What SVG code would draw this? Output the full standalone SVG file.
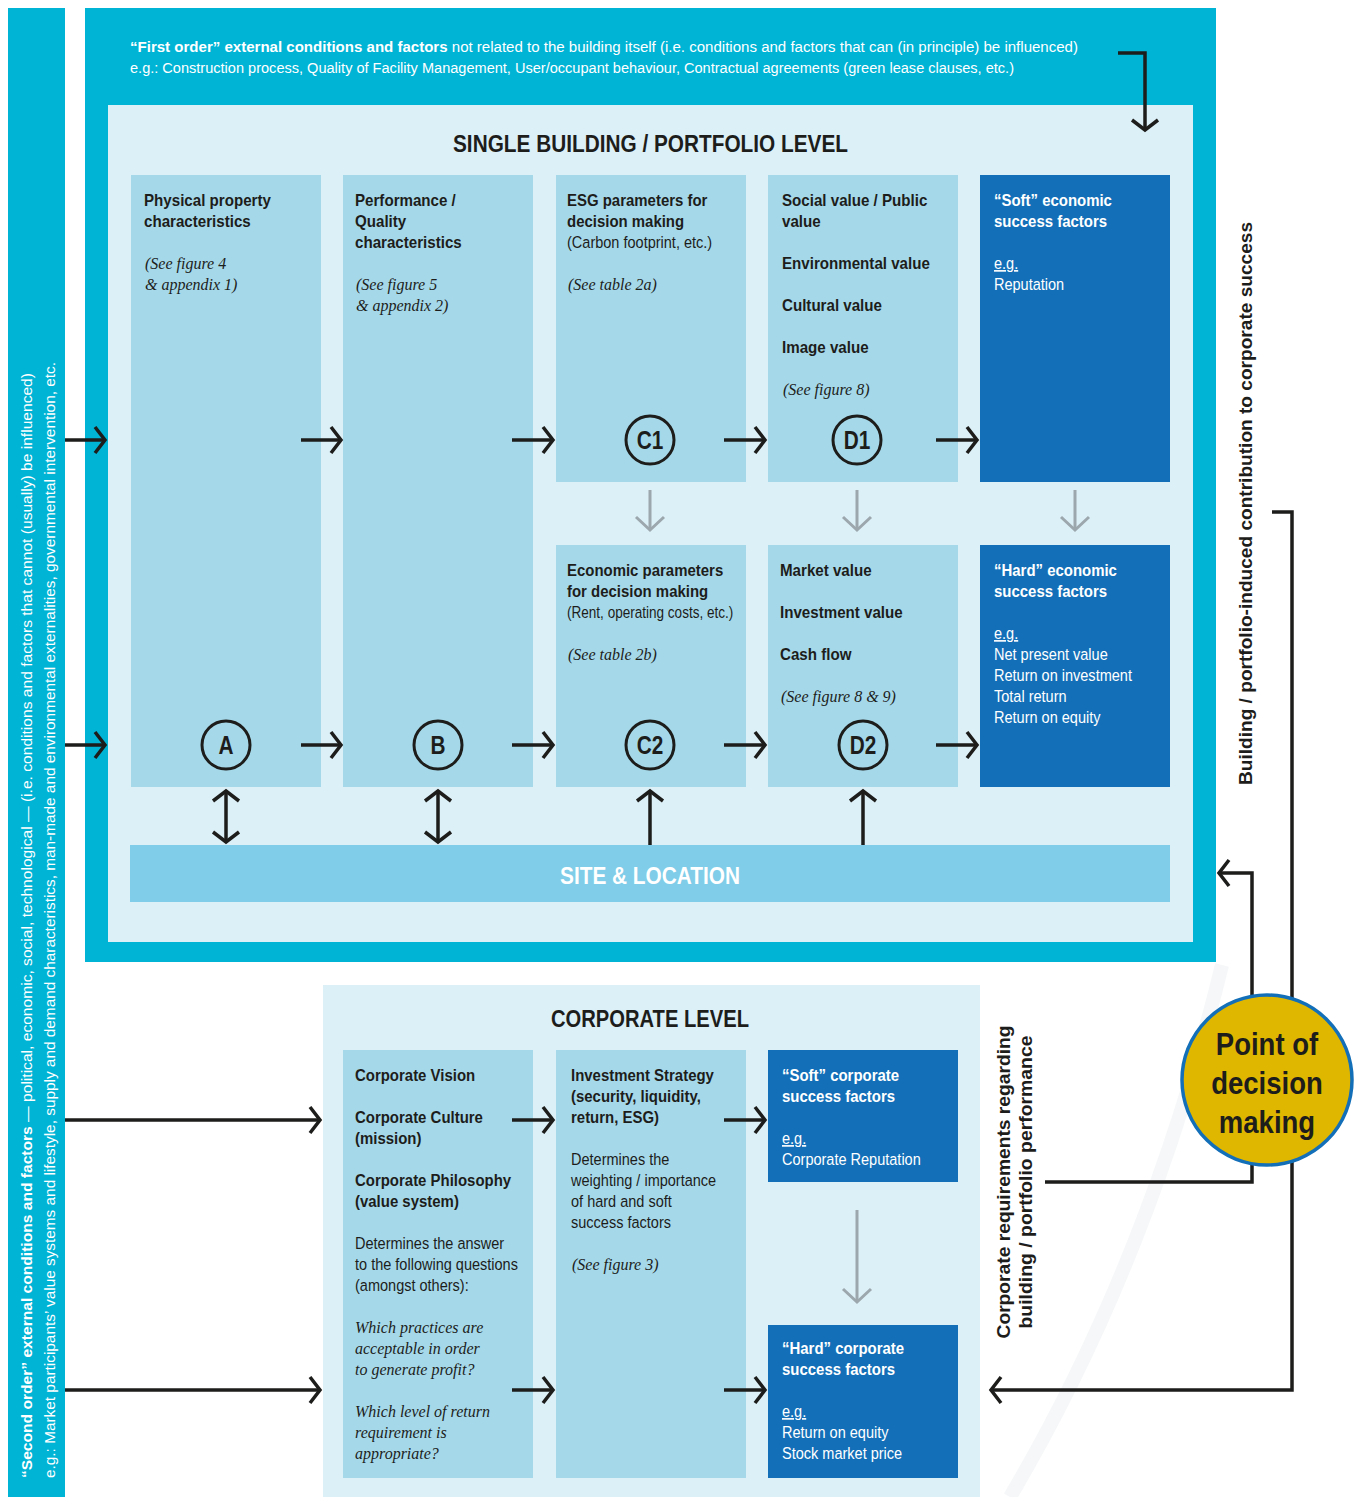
<svg xmlns="http://www.w3.org/2000/svg" width="1362" height="1497" viewBox="0 0 1362 1497">
<defs>
<style>
.cy{fill:#00b4d6}
.lt{fill:#dcf0f8}
.md{fill:#a5d9ea}
.dk{fill:#136fb8}
.site{fill:#7fcde8}
text{font-family:"Liberation Sans",Arial,sans-serif;fill:#1d1d1b}
.h{font-size:17px;font-weight:bold}
.r{font-size:16.5px}
.i{font-family:"Liberation Serif",serif;font-style:italic;font-size:16px}
.w{fill:#ffffff}
.u{text-decoration:underline}
.t{font-size:24px;font-weight:bold}
.cl{font-size:26px;font-weight:bold;text-anchor:middle}
.circ{fill:none;stroke:#1d1d1b;stroke-width:3}
.ar{fill:none;stroke:#1d1d1b;stroke-width:3.5;marker-end:url(#ah)}
.ar2{fill:none;stroke:#1d1d1b;stroke-width:3.5;marker-end:url(#ah);marker-start:url(#ahs)}
.ga{fill:none;stroke:#9ca7ad;stroke-width:3;marker-end:url(#gh)}
</style>
<marker id="ah" markerUnits="userSpaceOnUse" viewBox="-16 -16 20 32" refX="0" refY="0" markerWidth="20" markerHeight="32" orient="auto" overflow="visible">
<path d="M-10,-13 L0,0 L-10,13" fill="none" stroke="#1d1d1b" stroke-width="3.5"/>
</marker>
<marker id="ahs" markerUnits="userSpaceOnUse" viewBox="-4 -16 20 32" refX="0" refY="0" markerWidth="20" markerHeight="32" orient="auto" overflow="visible">
<path d="M10,-13 L0,0 L10,13" fill="none" stroke="#1d1d1b" stroke-width="3.5"/>
</marker>
<marker id="gh" markerUnits="userSpaceOnUse" viewBox="-16 -16 20 32" refX="0" refY="0" markerWidth="20" markerHeight="32" orient="auto" overflow="visible">
<path d="M-13,-14 L0,0 L-13,14" fill="none" stroke="#9ca7ad" stroke-width="3"/>
</marker>
</defs>
<rect x="0" y="0" width="1362" height="1497" fill="#ffffff"/>
<path d="M1222,965 Q1150,1260 1010,1497" fill="none" stroke="#f3f5f6" stroke-width="14" opacity="0.8"/>

<g id="second-order">
<rect class="cy" x="8" y="8" width="57" height="1489"/>
<text class="w" transform="translate(32,1478) rotate(-90)" font-size="15.5" textLength="1105" lengthAdjust="spacingAndGlyphs"><tspan font-weight="bold">“Second order” external conditions and factors</tspan> — political, economic, social, technological — (i.e. conditions and factors that cannot (usually) be influenced)</text>
<text class="w" transform="translate(55,1478) rotate(-90)" font-size="15.5" textLength="1116" lengthAdjust="spacingAndGlyphs">e.g.: Market participants’ value systems and lifestyle, supply and demand characteristics, man-made and environmental externalities, governmental intervention, etc.</text>
</g>

<g id="first-order">
<rect class="cy" x="85" y="8" width="1131" height="954"/>
<text class="w" x="130" y="52" font-size="15.5" textLength="948" lengthAdjust="spacingAndGlyphs"><tspan font-weight="bold">“First order” external conditions and factors</tspan> not related to the building itself  (i.e. conditions and factors that can (in principle) be influenced)</text>
<text class="w" x="130" y="73" font-size="15.5" textLength="884" lengthAdjust="spacingAndGlyphs">e.g.: Construction process, Quality of Facility Management, User/occupant behaviour, Contractual agreements (green lease clauses, etc.)</text>
</g>

<g id="single-building-level">
<rect class="lt" x="108" y="105" width="1085" height="837"/>
<text class="t" x="453" y="152" textLength="395" lengthAdjust="spacingAndGlyphs">SINGLE BUILDING / PORTFOLIO LEVEL</text>
</g>

<g id="node-A">
<rect class="md" x="131" y="175" width="190" height="612"/>
<g transform="translate(144,0) scale(0.89,1)">
<text class="h" y="206">Physical property</text>
<text class="h" y="227">characteristics</text>
</g>
<text class="i" x="145" y="269">(See figure 4</text>
<text class="i" x="145" y="290">&amp; appendix 1)</text>
<circle class="circ" cx="226" cy="745" r="24"/>
<g transform="translate(226,0) scale(0.8,1)"><text class="cl" y="754">A</text></g>
</g>

<g id="node-B">
<rect class="md" x="343" y="175" width="190" height="612"/>
<g transform="translate(355,0) scale(0.89,1)">
<text class="h" y="206">Performance /</text>
<text class="h" y="227">Quality</text>
<text class="h" y="248">characteristics</text>
</g>
<text class="i" x="356" y="290">(See figure 5</text>
<text class="i" x="356" y="311">&amp; appendix 2)</text>
<circle class="circ" cx="438" cy="745" r="24"/>
<g transform="translate(438,0) scale(0.8,1)"><text class="cl" y="754">B</text></g>
</g>

<g id="node-C1">
<rect class="md" x="556" y="175" width="190" height="307"/>
<g transform="translate(567,0) scale(0.88,1)">
<text class="h" y="206">ESG parameters for</text>
<text class="h" y="227">decision making</text>
<text class="r" y="248">(Carbon footprint, etc.)</text>
</g>
<text class="i" x="568" y="290">(See table 2a)</text>
<circle class="circ" cx="650" cy="440" r="24"/>
<g transform="translate(650,0) scale(0.8,1)"><text class="cl" y="449">C1</text></g>
</g>

<g id="node-D1">
<rect class="md" x="768" y="175" width="190" height="307"/>
<g transform="translate(782,0) scale(0.89,1)">
<text class="h" y="206">Social value / Public</text>
<text class="h" y="227">value</text>
<text class="h" y="269">Environmental value</text>
<text class="h" y="311">Cultural value</text>
<text class="h" y="353">Image value</text>
</g>
<text class="i" x="783" y="395">(See figure 8)</text>
<circle class="circ" cx="857" cy="440" r="24"/>
<g transform="translate(857,0) scale(0.8,1)"><text class="cl" y="449">D1</text></g>
</g>

<g id="node-soft-economic">
<rect class="dk" x="980" y="175" width="190" height="307"/>
<g transform="translate(994,0) scale(0.88,1)">
<text class="h w" y="206">“Soft” economic</text>
<text class="h w" y="227">success factors</text>
<text class="r w u" y="269">e.g.</text>
<text class="r w" y="290">Reputation</text>
</g>
</g>

<g id="node-C2">
<rect class="md" x="556" y="545" width="190" height="242"/>
<g transform="translate(567,0) scale(0.88,1)">
<text class="h" y="576">Economic parameters</text>
<text class="h" y="597">for decision making</text>
<text class="r" y="618" textLength="189" lengthAdjust="spacingAndGlyphs">(Rent, operating costs, etc.)</text>
</g>
<text class="i" x="568" y="660">(See table 2b)</text>
<circle class="circ" cx="650" cy="745" r="24"/>
<g transform="translate(650,0) scale(0.8,1)"><text class="cl" y="754">C2</text></g>
</g>

<g id="node-D2">
<rect class="md" x="768" y="545" width="190" height="242"/>
<g transform="translate(780,0) scale(0.89,1)">
<text class="h" y="576">Market value</text>
<text class="h" y="618">Investment value</text>
<text class="h" y="660">Cash flow</text>
</g>
<text class="i" x="781" y="702">(See figure 8 &amp; 9)</text>
<circle class="circ" cx="863" cy="745" r="24"/>
<g transform="translate(863,0) scale(0.8,1)"><text class="cl" y="754">D2</text></g>
</g>

<g id="node-hard-economic">
<rect class="dk" x="980" y="545" width="190" height="242"/>
<g transform="translate(994,0) scale(0.88,1)">
<text class="h w" y="576">“Hard” economic</text>
<text class="h w" y="597">success factors</text>
<text class="r w u" y="639">e.g.</text>
<text class="r w" y="660">Net present value</text>
<text class="r w" y="681">Return on investment</text>
<text class="r w" y="702">Total return</text>
<text class="r w" y="723">Return on equity</text>
</g>
</g>

<g id="node-site">
<rect class="site" x="130" y="845" width="1040" height="57"/>
<text class="t w" x="560" y="884" textLength="180" lengthAdjust="spacingAndGlyphs">SITE &amp; LOCATION</text>
</g>

<g id="corporate-level">
<rect class="lt" x="323" y="985" width="657" height="512"/>
<text class="t" x="551" y="1027" textLength="198" lengthAdjust="spacingAndGlyphs">CORPORATE LEVEL</text>
</g>

<g id="node-vision">
<rect class="md" x="343" y="1050" width="190" height="428"/>
<g transform="translate(355,0) scale(0.88,1)">
<text class="h" y="1081">Corporate Vision</text>
<text class="h" y="1123">Corporate Culture</text>
<text class="h" y="1144">(mission)</text>
<text class="h" y="1186">Corporate Philosophy</text>
<text class="h" y="1207">(value system)</text>
<text class="r" y="1249">Determines the answer</text>
<text class="r" y="1270">to the following questions</text>
<text class="r" y="1291">(amongst others):</text>
</g>
<text class="i" x="355" y="1333">Which practices are</text>
<text class="i" x="355" y="1354">acceptable in order</text>
<text class="i" x="355" y="1375">to generate profit?</text>
<text class="i" x="355" y="1417">Which level of return</text>
<text class="i" x="355" y="1438">requirement is</text>
<text class="i" x="355" y="1459">appropriate?</text>
</g>

<g id="node-investment">
<rect class="md" x="556" y="1050" width="190" height="428"/>
<g transform="translate(571,0) scale(0.88,1)">
<text class="h" y="1081">Investment Strategy</text>
<text class="h" y="1102">(security, liquidity,</text>
<text class="h" y="1123">return, ESG)</text>
<text class="r" y="1165">Determines the</text>
<text class="r" y="1186">weighting / importance</text>
<text class="r" y="1207">of hard and soft</text>
<text class="r" y="1228">success factors</text>
</g>
<text class="i" x="572" y="1270">(See figure 3)</text>
</g>

<g id="node-soft-corporate">
<rect class="dk" x="768" y="1050" width="190" height="132"/>
<g transform="translate(782,0) scale(0.88,1)">
<text class="h w" y="1081">“Soft” corporate</text>
<text class="h w" y="1102">success factors</text>
<text class="r w u" y="1144">e.g.</text>
<text class="r w" y="1165">Corporate Reputation</text>
</g>
</g>

<g id="node-hard-corporate">
<rect class="dk" x="768" y="1325" width="190" height="153"/>
<g transform="translate(782,0) scale(0.88,1)">
<text class="h w" y="1354">“Hard” corporate</text>
<text class="h w" y="1375">success factors</text>
<text class="r w u" y="1417">e.g.</text>
<text class="r w" y="1438">Return on equity</text>
<text class="r w" y="1459">Stock market price</text>
</g>
</g>

<g id="labels">
<text transform="translate(1252,503.5) rotate(-90)" font-size="18" font-weight="bold" text-anchor="middle" textLength="563" lengthAdjust="spacingAndGlyphs">Building / portfolio-induced contribution to corporate success</text>
<text transform="translate(1010,1182) rotate(-90)" font-size="18" font-weight="bold" text-anchor="middle" textLength="313" lengthAdjust="spacingAndGlyphs">Corporate requirements regarding</text>
<text transform="translate(1032,1182) rotate(-90)" font-size="18" font-weight="bold" text-anchor="middle" textLength="293" lengthAdjust="spacingAndGlyphs">building / portfolio performance</text>
</g>

<g id="connectors">
<path class="ar" d="M65,440 H105"/>
<path class="ar" d="M301,440 H341"/>
<path class="ar" d="M512,440 H553"/>
<path class="ar" d="M724,440 H765"/>
<path class="ar" d="M936,440 H977"/>
<path class="ar" d="M65,745 H105"/>
<path class="ar" d="M301,745 H341"/>
<path class="ar" d="M512,745 H553"/>
<path class="ar" d="M724,745 H765"/>
<path class="ar" d="M936,745 H977"/>
<path class="ga" d="M650,490 V530"/>
<path class="ga" d="M857,490 V530"/>
<path class="ga" d="M1075,490 V530"/>
<path class="ar2" d="M226,791 V842"/>
<path class="ar2" d="M438,791 V842"/>
<path class="ar" d="M650,845 V791"/>
<path class="ar" d="M863,845 V791"/>
<path class="ar" d="M1118,53 H1145 V130"/>
<path class="ar" d="M65,1120 H320"/>
<path class="ar" d="M512,1120 H553"/>
<path class="ar" d="M724,1120 H765"/>
<path class="ar" d="M65,1390 H320"/>
<path class="ar" d="M512,1390 H553"/>
<path class="ar" d="M724,1390 H765"/>
<path class="ga" d="M857,1210 V1302"/>
<path class="ar" d="M1272,512 H1292 V1390 H991"/>
<path class="ar" d="M1045,1182 H1252 V873 H1219"/>
</g>

<g id="node-decision">
<circle cx="1267" cy="1080" r="85" fill="#e0b700" stroke="#136fb8" stroke-width="3.5"/>
<g transform="translate(1267,0) scale(0.86,1)">
<text y="1055" font-size="32" font-weight="bold" text-anchor="middle">Point of</text>
<text y="1094" font-size="32" font-weight="bold" text-anchor="middle">decision</text>
<text y="1133" font-size="32" font-weight="bold" text-anchor="middle">making</text>
</g>
</g>
</svg>
